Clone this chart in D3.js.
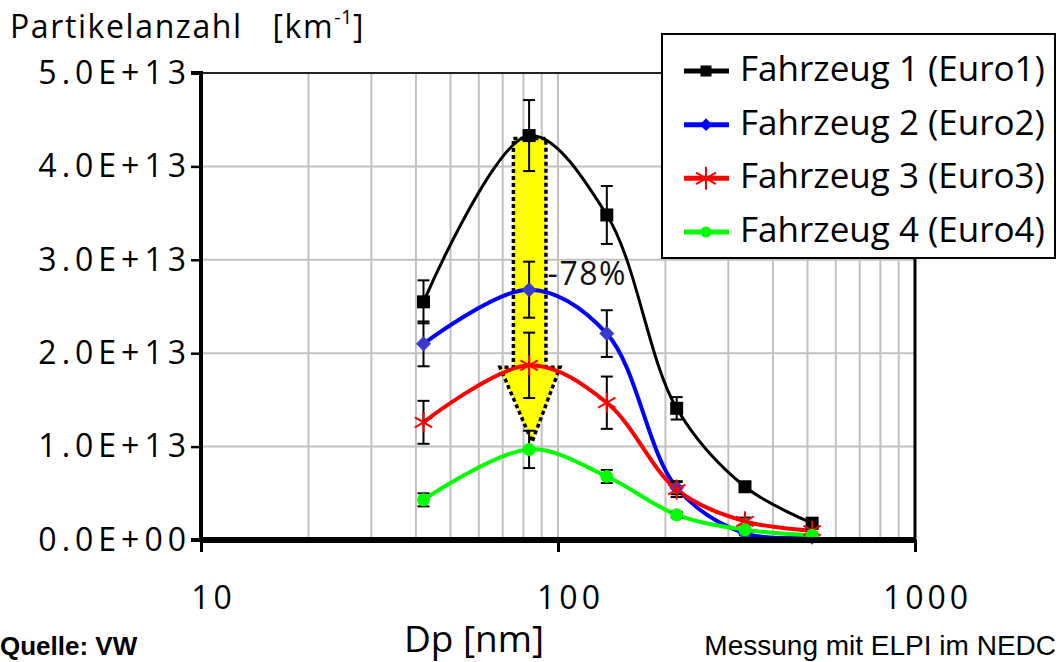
<!DOCTYPE html>
<html>
<head>
<meta charset="utf-8">
<script src="https://cdn.jsdelivr.net/npm/d3@7"></script>
<style>
  body { margin: 0; background: #fff; }
  svg { display: block; font-family: "Open Sans", "Noto Sans", sans-serif; }
</style>
</head>
<body>
<svg id="chart" width="1060" height="662"></svg>
<script>
// Partikelgrößen (ELPI-Stufen) in nm
const dp = [42, 83, 137, 215, 334, 515];

// Partikelanzahl in 1E13 / km
const fz1 = [2.55, 4.33, 3.48, 1.41, 0.57, 0.18];
const fz2 = [2.10, 2.68, 2.21, 0.56, 0.07, 0.03];
const fz3 = [1.26, 1.87, 1.47, 0.54, 0.20, 0.10];
const fz4 = [0.43, 0.97, 0.68, 0.27, 0.11, 0.05];

// Fehlerbalken (+/-) in 1E13 / km
const err1 = [0.23, 0.38, 0.31, 0.12, 0.05, 0.03];
const err2 = [0.24, 0.30, 0.25, 0.07, 0.02, 0.02];
const err3 = [0.23, 0.35, 0.28, 0.08, 0.04, 0.02];
const err4 = [0.07, 0.20, 0.07, 0.03, 0.02, 0.01];

const seriesNames = ["Fahrzeug 1 (Euro1)", "Fahrzeug 2 (Euro2)", "Fahrzeug 3 (Euro3)", "Fahrzeug 4 (Euro4)"];
const yTicks = [0, 1, 2, 3, 4, 5];
const yTickLabels = ["0.0E+00", "1.0E+13", "2.0E+13", "3.0E+13", "4.0E+13", "5.0E+13"];
const xTicks = [10, 100, 1000];

// Pfeil (-78%) in Datenkoordinaten
const arrowShaft = [75, 92.5];     // x links/rechts
const arrowHead = [68.8, 101.3];   // x links/rechts
const arrowTipX = 84.6;
const arrowYs = [4.30, 1.85, 1.05]; // oben, Ansatz Spitze, Spitze

const series = [
  { name: seriesNames[0], values: fz1, err: err1, color: "#000000", marker: "square", lw: 3 },
  { name: seriesNames[1], values: fz2, err: err2, color: "#0000ff", marker: "diamond", lw: 4 },
  { name: seriesNames[2], values: fz3, err: err3, color: "#ff0000", marker: "star", lw: 4 },
  { name: seriesNames[3], values: fz4, err: err4, color: "#00ff00", marker: "circle", lw: 4 }
];

const svg = d3.select("#chart");
const plot = { left: 201, right: 915, top: 73, bottom: 540 };

const x = d3.scaleLog().domain([10, 1000]).range([plot.left, plot.right]);
const y = d3.scaleLinear().domain([0, 5]).range([plot.bottom, plot.top]);

// Gitter
const grid = svg.append("g").attr("stroke", "#c0c0c0").attr("stroke-width", 2);
const minor = [];
[10, 100].forEach(d => { for (let k = 2; k <= 10; k++) minor.push(d * k); });
grid.selectAll(".gx").data(minor.filter(v => v < 1000)).enter().append("line")
  .attr("x1", d => x(d)).attr("x2", d => x(d)).attr("y1", plot.top).attr("y2", plot.bottom);
grid.selectAll(".gy").data(yTicks.filter(v => v > 0 && v < 5)).enter().append("line")
  .attr("x1", plot.left).attr("x2", plot.right).attr("y1", d => y(d)).attr("y2", d => y(d));

// Rahmen oben / rechts
svg.append("line").attr("x1", plot.left).attr("x2", plot.right).attr("y1", plot.top).attr("y2", plot.top)
  .attr("stroke", "#222").attr("stroke-width", 2);
svg.append("line").attr("x1", plot.right).attr("x2", plot.right).attr("y1", plot.top).attr("y2", plot.bottom)
  .attr("stroke", "#000").attr("stroke-width", 3);

// Pfeil
const arrowPts = [
  [arrowShaft[0], arrowYs[0]], [arrowShaft[1], arrowYs[0]],
  [arrowShaft[1], arrowYs[1]], [arrowHead[1], arrowYs[1]],
  [arrowTipX, arrowYs[2]], [arrowHead[0], arrowYs[1]],
  [arrowShaft[0], arrowYs[1]]
];
svg.append("path")
  .attr("d", d3.line().x(d => x(d[0])).y(d => y(d[1]))(arrowPts) + "Z")
  .attr("fill", "#ffff00")
  .attr("stroke", "#000")
  .attr("stroke-width", 3.5)
  .attr("stroke-dasharray", "4,3");

svg.append("text")
  .attr("x", x(93.5)).attr("y", y(2.73))
  .attr("font-size", 32).attr("letter-spacing", 1.5).attr("fill", "#111")
  .text("-78%");

// Linien
const line = d3.line().x((d, i) => x(dp[i])).y(d => y(d)).curve(d3.curveCatmullRom.alpha(0.5));
series.forEach(s => {
  svg.append("path").datum(s.values)
    .attr("d", line).attr("fill", "none")
    .attr("stroke", s.color).attr("stroke-width", s.lw)
    .attr("stroke-linejoin", "round");
});

// Fehlerbalken
series.forEach(s => {
  const g = svg.append("g").attr("stroke", "#000").attr("stroke-width", 2);
  s.values.forEach((v, i) => {
    const cx = x(dp[i]);
    const y0 = y(v - s.err[i]), y1 = y(v + s.err[i]);
    g.append("line").attr("x1", cx).attr("x2", cx).attr("y1", y0).attr("y2", y1);
    g.append("line").attr("x1", cx - 6).attr("x2", cx + 6).attr("y1", y0).attr("y2", y0);
    g.append("line").attr("x1", cx - 6).attr("x2", cx + 6).attr("y1", y1).attr("y2", y1);
  });
});

function drawMarker(g, type, cx, cy, color, legend) {
  const k = legend ? 0.85 : 1;
  if (type === "square") {
    const h = 6.5 * k;
    g.append("rect").attr("x", cx - h).attr("y", cy - h).attr("width", 2 * h).attr("height", 2 * h).attr("fill", "#000");
  } else if (type === "diamond") {
    const r = 7.5 * k;
    g.append("path").attr("d", `M${cx},${cy - r}L${cx + r},${cy}L${cx},${cy + r}L${cx - r},${cy}Z`)
      .attr("fill", legend ? "#0000ff" : "#3a3acc");
  } else if (type === "star") {
    const r = 10 * (legend ? 1.15 : 1);
    const st = g.append("g").attr("stroke", "#ff0000").attr("stroke-width", 2);
    st.append("line").attr("x1", cx).attr("x2", cx).attr("y1", cy - r).attr("y2", cy + r);
    [30, 150].forEach(a => {
      const dx = r * Math.cos(a * Math.PI / 180), dy = r * Math.sin(a * Math.PI / 180);
      st.append("line").attr("x1", cx - dx).attr("x2", cx + dx).attr("y1", cy - dy).attr("y2", cy + dy);
    });
  } else {
    g.append("circle").attr("cx", cx).attr("cy", cy).attr("r", 6.5 * k).attr("fill", "#00ff00");
  }
}

series.forEach(s => {
  const g = svg.append("g");
  s.values.forEach((v, i) => drawMarker(g, s.marker, x(dp[i]), y(v), s.color, false));
});

// Achsen
const yAxis = svg.append("g").attr("transform", `translate(${plot.left},0)`)
  .call(d3.axisLeft(y).tickValues(yTicks).tickSize(10).tickFormat((d, i) => yTickLabels[i]));
yAxis.select(".domain").attr("stroke-width", 4).attr("d", `M-10,${plot.bottom}H0V${plot.top}H-10`);
yAxis.selectAll(".tick line").attr("stroke-width", 2.5);
yAxis.selectAll("text").attr("font-size", 32).attr("letter-spacing", 5).attr("fill", "#000").attr("x", -10)
  .attr("font-family", "Open Sans, sans-serif");

const xAxis = svg.append("g").attr("transform", `translate(0,${plot.bottom})`)
  .call(d3.axisBottom(x).tickValues(xTicks).tickSize(12).tickFormat(d3.format("d")));
xAxis.select(".domain").attr("stroke-width", 6).attr("d", `M${plot.left},0H${plot.right}`);
xAxis.selectAll(".tick line").attr("stroke-width", 3);
xAxis.selectAll("text").attr("font-size", 32).attr("letter-spacing", 4).attr("fill", "#000").attr("y", 46).attr("dx", 12)
  .attr("font-family", "Open Sans, sans-serif");

// Titel
const title = svg.append("text").attr("x", 10).attr("y", 38).attr("font-size", 32)
  .attr("letter-spacing", 1.6).attr("fill", "#000").style("white-space", "pre");
title.append("tspan").text("Partikelanzahl   [km");
title.append("tspan").attr("font-size", 20).attr("dy", -14).attr("letter-spacing", 0.5).text("-1");
title.append("tspan").attr("dy", 14).text("]");

svg.append("text").attr("x", 474).attr("y", 652).attr("text-anchor", "middle")
  .attr("font-size", 37).attr("fill", "#000").text("Dp [nm]");

svg.append("text").attr("x", 0).attr("y", 655)
  .attr("font-size", 26).attr("font-weight", "bold").attr("fill", "#000")
  .attr("font-family", "Liberation Sans, sans-serif")
  .text("Quelle: VW");

svg.append("text").attr("x", 1056).attr("y", 655).attr("text-anchor", "end")
  .attr("font-size", 28).attr("fill", "#000")
  .attr("font-family", "Liberation Sans, sans-serif")
  .text("Messung mit ELPI im NEDC");

// Legende
const lg = svg.append("g");
lg.append("rect").attr("x", 662).attr("y", 34).attr("width", 393).attr("height", 224)
  .attr("fill", "#fff").attr("stroke", "#000").attr("stroke-width", 2);
const legendY = d3.scalePoint().domain(seriesNames).range([71, 232]);
series.forEach(s => {
  const ly = legendY(s.name);
  lg.append("line").attr("x1", 684).attr("x2", 729).attr("y1", ly).attr("y2", ly)
    .attr("stroke", s.color).attr("stroke-width", 5);
  drawMarker(lg, s.marker, 706, ly, s.color, true);
  lg.append("text").attr("x", 740).attr("y", ly + 10).attr("font-size", 35).attr("fill", "#000").text(s.name);
});
</script>
</body>
</html>
